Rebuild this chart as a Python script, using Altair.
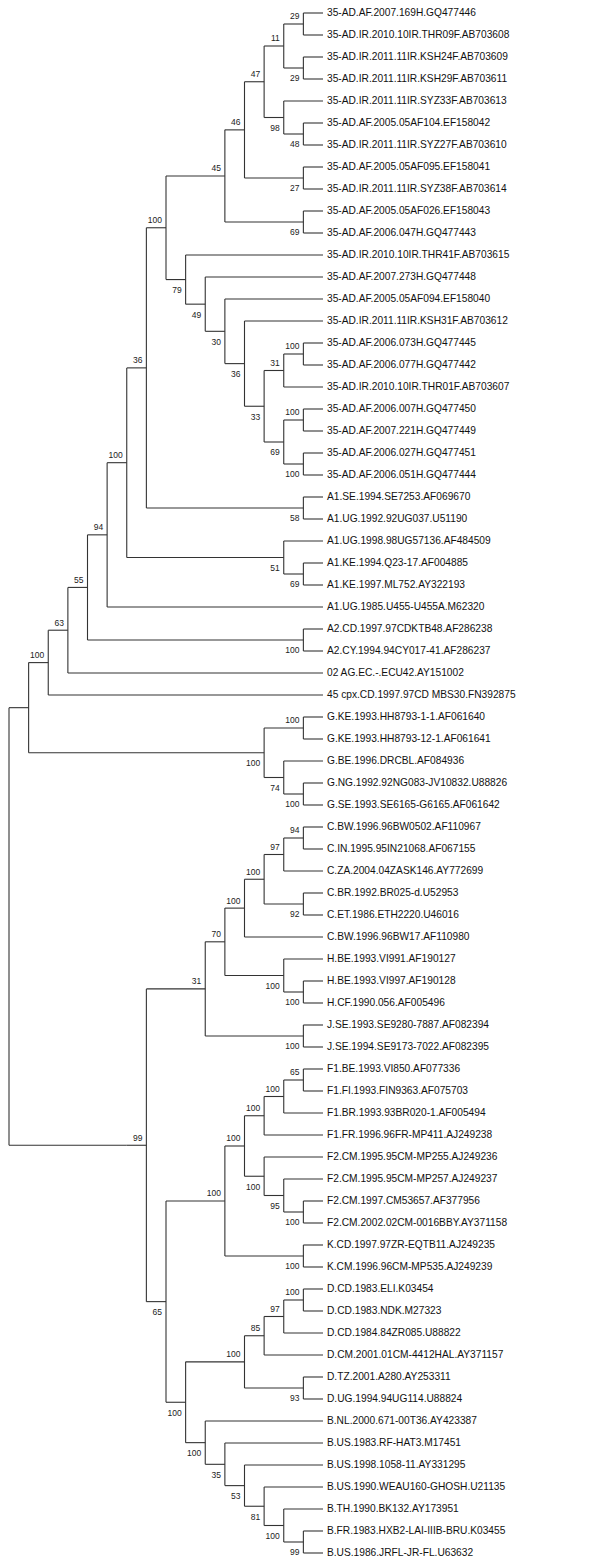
import altair as alt
import pandas as pd

# ---------------- data ----------------
LEAVES = [
    "35-AD.AF.2007.169H.GQ477446",
    "35-AD.IR.2010.10IR.THR09F.AB703608",
    "35-AD.IR.2011.11IR.KSH24F.AB703609",
    "35-AD.IR.2011.11IR.KSH29F.AB703611",
    "35-AD.IR.2011.11IR.SYZ33F.AB703613",
    "35-AD.AF.2005.05AF104.EF158042",
    "35-AD.IR.2011.11IR.SYZ27F.AB703610",
    "35-AD.AF.2005.05AF095.EF158041",
    "35-AD.IR.2011.11IR.SYZ38F.AB703614",
    "35-AD.AF.2005.05AF026.EF158043",
    "35-AD.AF.2006.047H.GQ477443",
    "35-AD.IR.2010.10IR.THR41F.AB703615",
    "35-AD.AF.2007.273H.GQ477448",
    "35-AD.AF.2005.05AF094.EF158040",
    "35-AD.IR.2011.11IR.KSH31F.AB703612",
    "35-AD.AF.2006.073H.GQ477445",
    "35-AD.AF.2006.077H.GQ477442",
    "35-AD.IR.2010.10IR.THR01F.AB703607",
    "35-AD.AF.2006.007H.GQ477450",
    "35-AD.AF.2007.221H.GQ477449",
    "35-AD.AF.2006.027H.GQ477451",
    "35-AD.AF.2006.051H.GQ477444",
    "A1.SE.1994.SE7253.AF069670",
    "A1.UG.1992.92UG037.U51190",
    "A1.UG.1998.98UG57136.AF484509",
    "A1.KE.1994.Q23-17.AF004885",
    "A1.KE.1997.ML752.AY322193",
    "A1.UG.1985.U455-U455A.M62320",
    "A2.CD.1997.97CDKTB48.AF286238",
    "A2.CY.1994.94CY017-41.AF286237",
    "02 AG.EC.-.ECU42.AY151002",
    "45 cpx.CD.1997.97CD MBS30.FN392875",
    "G.KE.1993.HH8793-1-1.AF061640",
    "G.KE.1993.HH8793-12-1.AF061641",
    "G.BE.1996.DRCBL.AF084936",
    "G.NG.1992.92NG083-JV10832.U88826",
    "G.SE.1993.SE6165-G6165.AF061642",
    "C.BW.1996.96BW0502.AF110967",
    "C.IN.1995.95IN21068.AF067155",
    "C.ZA.2004.04ZASK146.AY772699",
    "C.BR.1992.BR025-d.U52953",
    "C.ET.1986.ETH2220.U46016",
    "C.BW.1996.96BW17.AF110980",
    "H.BE.1993.VI991.AF190127",
    "H.BE.1993.VI997.AF190128",
    "H.CF.1990.056.AF005496",
    "J.SE.1993.SE9280-7887.AF082394",
    "J.SE.1994.SE9173-7022.AF082395",
    "F1.BE.1993.VI850.AF077336",
    "F1.FI.1993.FIN9363.AF075703",
    "F1.BR.1993.93BR020-1.AF005494",
    "F1.FR.1996.96FR-MP411.AJ249238",
    "F2.CM.1995.95CM-MP255.AJ249236",
    "F2.CM.1995.95CM-MP257.AJ249237",
    "F2.CM.1997.CM53657.AF377956",
    "F2.CM.2002.02CM-0016BBY.AY371158",
    "K.CD.1997.97ZR-EQTB11.AJ249235",
    "K.CM.1996.96CM-MP535.AJ249239",
    "D.CD.1983.ELI.K03454",
    "D.CD.1983.NDK.M27323",
    "D.CD.1984.84ZR085.U88822",
    "D.CM.2001.01CM-4412HAL.AY371157",
    "D.TZ.2001.A280.AY253311",
    "D.UG.1994.94UG114.U88824",
    "B.NL.2000.671-00T36.AY423387",
    "B.US.1983.RF-HAT3.M17451",
    "B.US.1998.1058-11.AY331295",
    "B.US.1990.WEAU160-GHOSH.U21135",
    "B.TH.1990.BK132.AY173951",
    "B.FR.1983.HXB2-LAI-IIIB-BRU.K03455",
    "B.US.1986.JRFL-JR-FL.U63632",
]

# topology (leaf indices) with bootstrap support values, Newick style
CLADE_35AD_A = "(((((0,1)29,(2,3)29)11,(4,(5,6)48)98)47,(7,8)27)46,(9,10)69)45"
CLADE_35AD_B = "(11,(12,(13,(14,(((15,16)100,17)31,((18,19)100,(20,21)100)69)33)36)30)49)79"
CLADE_A = ("(((((" + CLADE_35AD_A + "," + CLADE_35AD_B + ")100,(22,23)58)36,"
           "(24,(25,26)69)51)100,27)94,(28,29)100)55")
CLADE_A_FULL = "((" + CLADE_A + ",30)63,31)100"
CLADE_G = "((32,33)100,(34,(35,36)100)74)100"
CLADE_CHJ = "(((((37,38)94,39)97,(40,41)92)100,42)100,(43,(44,45)100)100)70"
CLADE_CHJ_FULL = "(" + CLADE_CHJ + ",(46,47)100)31"
CLADE_F = "((((48,49)65,50)100,51)100,(52,(53,(54,55)100)95)100)100"
CLADE_FK = "(" + CLADE_F + ",(56,57)100)100"
CLADE_D = "((((58,59)100,60)97,61)85,(62,63)93)100"
CLADE_B = "(64,(65,(66,(67,(68,(69,70)99)100)81)53)35)100"
CLADE_DB = "(" + CLADE_D + "," + CLADE_B + ")100"
TREE = ("((" + CLADE_A_FULL + "," + CLADE_G + "),((" + CLADE_CHJ_FULL + ",("
        + CLADE_FK + "," + CLADE_DB + ")65)99))")


# ---------------- parse & lay out ----------------
def parse(s):
    pos = 0

    def node():
        nonlocal pos
        if s[pos] == "(":
            pos += 1
            kids = [node()]
            while s[pos] == ",":
                pos += 1
                kids.append(node())
            assert s[pos] == ")"
            pos += 1
            lab = ""
            while pos < len(s) and s[pos].isdigit():
                lab += s[pos]
                pos += 1
            return {"kids": kids, "label": lab}
        num = ""
        while s[pos].isdigit():
            num += s[pos]
            pos += 1
        return {"leaf": int(num), "kids": [], "label": ""}

    return node()


root = parse(TREE)


def layout(n):
    if not n["kids"]:
        n["h"] = 0
        n["y"] = float(n["leaf"])
        return
    for k in n["kids"]:
        layout(k)
    n["h"] = 1 + max(k["h"] for k in n["kids"])
    n["y"] = (n["kids"][0]["y"] + n["kids"][-1]["y"]) / 2


layout(root)

segs, boots = [], []


def walk(n):
    if not n["kids"]:
        return
    segs.append({"x": n["h"], "x2": n["h"], "y": n["kids"][0]["y"], "y2": n["kids"][-1]["y"]})
    for i, k in enumerate(n["kids"]):
        segs.append({"x": n["h"], "x2": k["h"], "y": k["y"], "y2": k["y"]})
        if k["label"]:
            boots.append({"x": k["h"], "y": k["y"], "t": k["label"],
                          "side": "up" if i == 0 else "down"})
        walk(k)


walk(root)

seg_df = pd.DataFrame(segs)
boot_df = pd.DataFrame(boots)
leaf_df = pd.DataFrame({"x": [0] * len(LEAVES), "y": list(range(len(LEAVES))), "t": LEAVES})

W, H = 589, 1546
xs = alt.Scale(domain=[-13.962, 16.051], reverse=True)
ys = alt.Scale(domain=[0.0, 70.273], reverse=True)

X = alt.X("x:Q", scale=xs, axis=None)
Y = alt.Y("y:Q", scale=ys, axis=None)

lines = alt.Chart(seg_df).mark_rule(color="#333333", strokeWidth=1.1).encode(
    x=X, x2="x2:Q", y=Y, y2="y2:Q"
)

leaf_text = alt.Chart(leaf_df).mark_text(
    align="left", baseline="middle", dx=4, font="Liberation Sans", fontSize=10.2, color="#111111"
).encode(x=X, y=Y, text="t:N")

boot_up = alt.Chart(boot_df).transform_filter(alt.datum.side == "up").mark_text(
    align="right", baseline="middle", dx=-4, dy=-7.5, font="Liberation Sans", fontSize=8.5, color="#222222"
).encode(x=X, y=Y, text="t:N")

boot_down = alt.Chart(boot_df).transform_filter(alt.datum.side == "down").mark_text(
    align="right", baseline="middle", dx=-4, dy=10.5, font="Liberation Sans", fontSize=8.5, color="#222222"
).encode(x=X, y=Y, text="t:N")

chart = alt.layer(lines, leaf_text, boot_up, boot_down).properties(
    width=W, height=H, autosize=alt.AutoSizeParams(type="none"),
    padding={"top": 5, "left": 0, "right": 0, "bottom": 0},
    background="white",
).configure_view(stroke=None)

chart.save("out.html", embed_options={"renderer": "svg", "actions": False})
